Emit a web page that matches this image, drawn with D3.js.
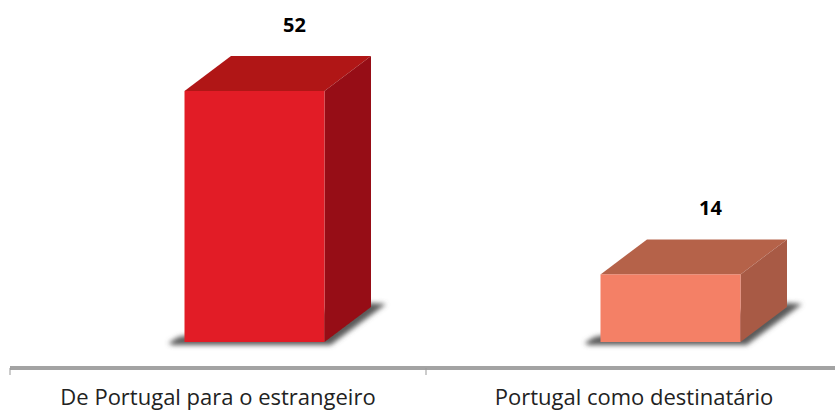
<!DOCTYPE html>
<html><head><meta charset="utf-8">
<script src="https://cdn.jsdelivr.net/npm/d3@7"></script>
<style>html,body{margin:0;padding:0;background:#fff}svg{display:block}text{font-family:"Open Sans",sans-serif}</style>
</head><body><svg id="c" width="835" height="410"></svg>
<script>
const categories = ["De Portugal para o estrangeiro", "Portugal como destinatário"];
const values = [52, 14];
const frontColors = ["#e21f26", "#f48066"];
const topColors = ["#b01419", "#b5624a"];
const sideColors = ["#961013", "#a85a45"];

const W = 835, H = 410;
const svg = d3.select("#c");
const baseY = 342, axisY = 368;
const x = d3.scaleBand().domain(categories).range([10, 842]);
const y = d3.scaleLinear().domain([0, 52]).range([baseY, 91]);
const barW = 140, barOff = 174.5, dx = 46.5, dy = 35;

const defs = svg.append("defs");
const blur = defs.append("filter").attr("id", "blur").attr("x", "-20%").attr("y", "-50%").attr("width", "140%").attr("height", "200%");
blur.append("feGaussianBlur").attr("stdDeviation", 2.8);
const soft = defs.append("filter").attr("id", "soft");
soft.append("feGaussianBlur").attr("stdDeviation", 0.7);

const bars = svg.selectAll("g.bar").data(categories).join("g").attr("class", "bar");
bars.each(function (c, i) {
  const g = d3.select(this);
  const l = x(c) + barOff, r = l + barW, t = y(values[i]), b = y(0);
  const poly = pts => pts.map(p => p.join(",")).join(" ");
  g.append("polygon").attr("points", poly([[l - 16, b + 1], [l - 6, b - 5], [r + dx, b - dy - 4], [r + dx + 15, b - dy - 3], [r + 6, b + 3], [l - 12, b + 3]]))
    .attr("fill", "#5a5a5a").attr("filter", "url(#blur)");
  const sh = g.append("g").attr("filter", "url(#soft)");
  sh.append("polygon").attr("points", poly([[l, t], [l + dx, t - dy], [r + dx, t - dy], [r, t]])).attr("fill", topColors[i]);
  sh.append("polygon").attr("points", poly([[r, t], [r + dx, t - dy], [r + dx, b - dy], [r, b]])).attr("fill", sideColors[i]);
  sh.append("rect").attr("x", l).attr("y", t).attr("width", barW).attr("height", b - t).attr("fill", frontColors[i]);
  g.append("text").attr("x", l + barW / 2 + 40).attr("y", t - dy - 24).attr("text-anchor", "middle")
    .attr("font-size", 20).attr("font-weight", 700).attr("fill", "#000").text(values[i]);
});

const axis = d3.axisBottom(x).tickSize(0).tickPadding(0);
const ax = svg.append("g").attr("transform", `translate(0,${axisY})`).call(axis);
ax.select(".domain").remove();
ax.selectAll(".tick text").attr("y", 37).attr("dy", 0).attr("font-size", 22).attr("fill", "#222").style("font-family", '"Open Sans",sans-serif');
svg.append("rect").attr("x", 10).attr("y", axisY - 2).attr("width", W - 10).attr("height", 4).attr("fill", "#a3a3a3");
svg.selectAll("line.sep").data([...categories.map(c => x(c))]).join("line").attr("class", "sep")
  .attr("x1", d => d).attr("x2", d => d).attr("y1", axisY).attr("y2", axisY + 7)
  .attr("stroke", "#999").attr("stroke-width", 1);
</script></body></html>
